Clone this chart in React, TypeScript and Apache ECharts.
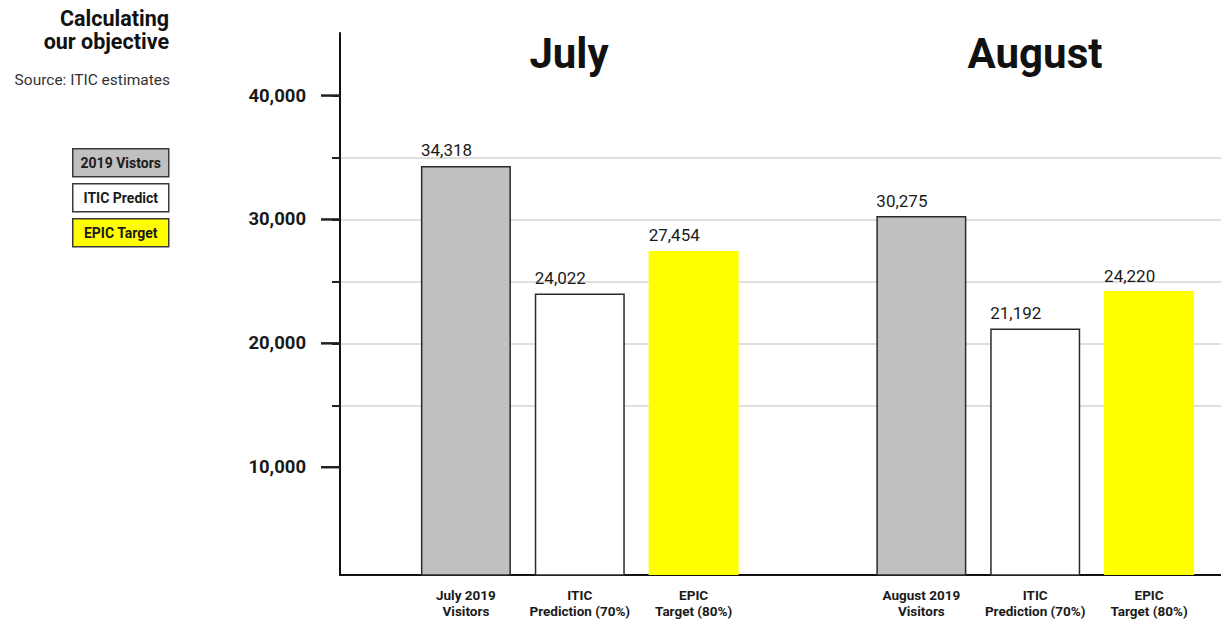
import React, { useEffect, useRef } from "react";
import * as echarts from "echarts";

// Categories along the bottom axis (the blank slot separates the two months)
const categories = [
  "July 2019\nVisitors",
  "ITIC\nPrediction (70%)",
  "EPIC\nTarget (80%)",
  "",
  "August 2019\nVisitors",
  "ITIC\nPrediction (70%)",
  "EPIC\nTarget (80%)",
];

const seriesNames = ["2019 Vistors", "ITIC Predict", "EPIC Target"];
const monthTitles = ["July", "August"];

// Values per month: [July, August]
const visitors2019 = [34318, 30275];
const iticPredict = [24022, 21192];
const epicTarget = [27454, 24220];

// Slot index in the category axis for each bar of a series, per month
const julySlots = [0, 1, 2];
const augustSlots = [4, 5, 6];

// Value-axis settings
const yMin = 1300;
const yMax = 45050;
const gridValues = [10000, 15000, 20000, 25000, 30000, 35000, 40000];
const labelValues = [10000, 20000, 30000, 40000];

const FONT = "Roboto, 'Noto Sans', sans-serif";

const colors = ["#c0c0c0", "#ffffff", "#ffff00"];
const borders = ["#2a2a2a", "#2a2a2a", "transparent"];

function buildData(values: number[], seriesIdx: number) {
  const arr: (number | string)[] = categories.map(() => "-");
  arr[julySlots[seriesIdx]] = values[0];
  arr[augustSlots[seriesIdx]] = values[1];
  return arr;
}

export default function App() {
  const ref = useRef<HTMLDivElement>(null);

  useEffect(() => {
    if (!ref.current) return;
    const chart = echarts.init(ref.current, undefined, { renderer: "svg" });

    const allSeries = [visitors2019, iticPredict, epicTarget];

    const legendGraphics = seriesNames.map((name, i) => ({
      id: `legend${i}`,
      type: "group",
      left: 72,
      top: [148, 183, 218][i],
      children: [
        {
          type: "rect",
          shape: { x: 0, y: 0, width: 96, height: 28 },
          style: {
            fill: colors[i],
            stroke: "#3a3a3a",
            lineWidth: 1.5,
          },
        },
        {
          type: "text",
          x: 48,
          y: 14,
          style: {
            text: name,
            fill: "#1a1a1a",
            font: `bold 14px ${FONT}`,
            textAlign: "center",
            textVerticalAlign: "middle",
          },
        },
      ],
    }));

    const textGraphics = [
      {
        id: "heading",
        type: "text",
        x: 169,
        y: 7,
        style: {
          text: "Calculating\nour objective",
          fill: "#111",
          font: `bold 21.5px ${FONT}`,
          lineHeight: 23,
          textAlign: "right",
          textVerticalAlign: "top",
        },
      },
      {
        id: "source",
        type: "text",
        x: 170,
        y: 80,
        style: {
          text: "Source: ITIC estimates",
          fill: "#333",
          font: `15.5px ${FONT}`,
          textAlign: "right",
          textVerticalAlign: "middle",
        },
      },
      ...monthTitles.map((t, i) => ({
        id: `month${i}`,
        type: "text",
        x: [569, 1035][i],
        y: 53,
        style: {
          text: t,
          fill: "#111",
          font: `bold 42px ${FONT}`,
          textAlign: "center",
          textVerticalAlign: "middle",
        },
      })),
    ];

    const option: any = {
      animation: false,
      backgroundColor: "#ffffff",
      grid: [
        { left: 340, right: 0, top: 33, bottom: 46, containLabel: false },
        { left: 409, width: 797, top: 33, bottom: 46, containLabel: false },
      ],
      xAxis: [
        {
          gridIndex: 0,
          type: "value",
          min: 0,
          max: 1,
          axisLine: { show: true, onZero: false, lineStyle: { color: "#111", width: 2 } },
          axisTick: { show: false },
          axisLabel: { show: false },
          splitLine: { show: false },
        },
        {
          gridIndex: 1,
          type: "category",
          data: categories,
          axisLine: { show: false },
          axisTick: { show: false },
          axisLabel: {
            color: "#1a1a1a",
            fontFamily: FONT,
            fontWeight: "bold",
            fontSize: 13.5,
            lineHeight: 16,
            margin: 12,
            interval: 0,
          },
          splitLine: { show: false },
        },
      ],
      yAxis: [
        {
          // main axis: line and labels
          gridIndex: 0,
          type: "value",
          position: "left",
          min: yMin,
          max: yMax,
          axisLine: { show: true, lineStyle: { color: "#111", width: 2 } },
          axisTick: { show: false },
          axisLabel: {
            show: true,
            customValues: labelValues,
            margin: 34,
            color: "#1a1a1a",
            fontFamily: FONT,
            fontWeight: "bold",
            fontSize: 18.5,
            formatter: (v: number) => v.toLocaleString("en-US"),
          },
          splitLine: { show: false },
        },
        {
          // short ticks and grid lines every 5,000
          gridIndex: 0,
          type: "value",
          position: "left",
          offset: 0,
          min: yMin,
          max: yMax,
          axisLine: { show: false },
          axisTick: {
            show: true,
            customValues: gridValues,
            length: 8,
            lineStyle: { color: "#222", width: 2 },
          },
          axisLabel: { show: false },
          splitLine: {
            show: true,
            showMinLine: false,
            showMaxLine: false,
            lineStyle: { color: "#d4d4d4", width: 1.5 },
          },
        },
        {
          gridIndex: 1,
          type: "value",
          min: yMin,
          max: yMax,
          axisLine: { show: false },
          axisTick: { show: false },
          axisLabel: { show: false },
          splitLine: { show: false },
        },
      ],
      series: allSeries.map((vals, i) => ({
        type: "bar",
        name: seriesNames[i],
        xAxisIndex: 1,
        yAxisIndex: 2,
        barWidth: 90,
        barGap: "-100%",
        data: buildData(vals, i),
        itemStyle: {
          color: colors[i],
          borderColor: borders[i],
          borderWidth: i === 2 ? 0 : 1.5,
        },
        label: {
          show: true,
          position: [0, -7],
          align: "left",
          verticalAlign: "bottom",
          color: "#1a1a1a",
          fontFamily: FONT,
          fontSize: 17,
          formatter: (p: any) => Number(p.value).toLocaleString("en-US"),
        },
      })),
      graphic: [...textGraphics, ...legendGraphics],
    };

    chart.setOption(option);

    // Long tick marks at the labelled values, placed with the axis scale
    const axisX = Number(chart.convertToPixel({ gridIndex: 0 }, [0, yMin])[0]);
    const majorTicks = labelValues.map((v, i) => {
      const y = Number(chart.convertToPixel({ yAxisIndex: 0 }, v));
      return {
        id: `major${i}`,
        type: "rect",
        z: 100,
        shape: { x: axisX - 19, y: y - 1.25, width: 19, height: 2.5 },
        style: { fill: "#222" },
      };
    });
    chart.setOption({ graphic: [...textGraphics, ...legendGraphics, ...majorTicks] });

    return () => chart.dispose();
  }, []);

  return (
    <div
      ref={ref}
      style={{ position: "absolute", left: 0, top: 0, width: 1221, height: 621 }}
    />
  );
}
